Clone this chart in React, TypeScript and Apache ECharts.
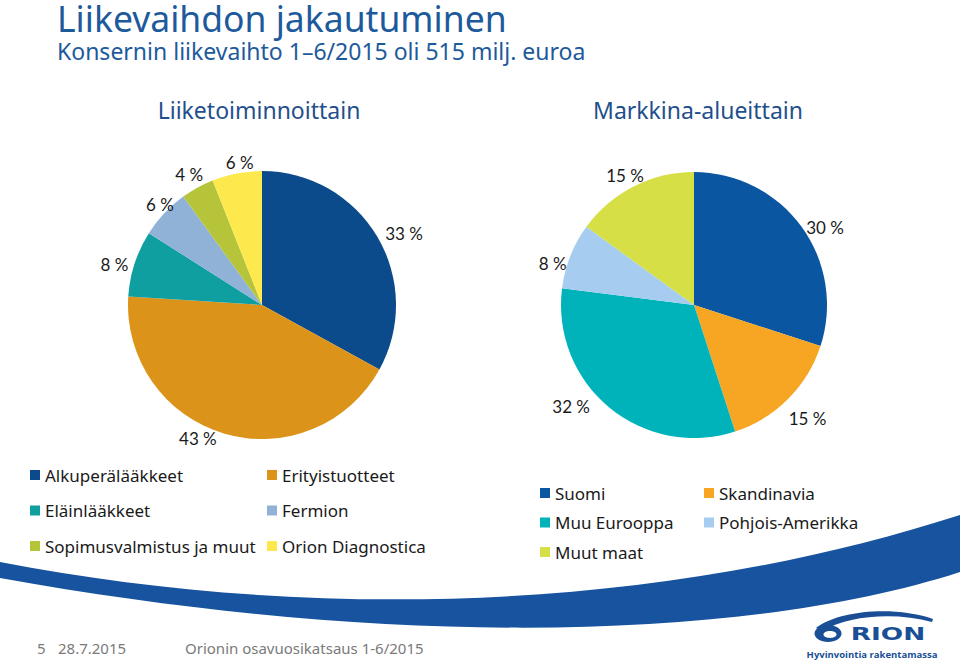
import React, { useEffect, useRef } from "react";
import * as echarts from "echarts";

const title = "Liikevaihdon jakautuminen";
const subtitle = "Konsernin liikevaihto 1–6/2015 oli 515 milj. euroa";
const leftHeader = "Liiketoiminnoittain";
const rightHeader = "Markkina-alueittain";

const segNames = [
  "Alkuperälääkkeet",
  "Erityistuotteet",
  "Eläinlääkkeet",
  "Fermion",
  "Sopimusvalmistus ja muut",
  "Orion Diagnostica",
];
const segValues = [33, 43, 8, 6, 4, 6];
const segColors = ["#0b4a8b", "#dc931a", "#0f9fa0", "#8fb2d6", "#b6c43a", "#fde84d"];

const mktNames = ["Suomi", "Skandinavia", "Muu Eurooppa", "Pohjois-Amerikka", "Muut maat"];
const mktValues = [30, 15, 32, 8, 15];
const mktColors = ["#0a56a1", "#f6a623", "#00b3ba", "#a6cdf0", "#d6e046"];

const footerPage = "5";
const footerDate = "28.7.2015";
const footerText = "Orionin osavuosikatsaus 1-6/2015";
const logoWord = "RION";
const logoTagline = "Hyvinvointia rakentamassa";

// small label nudges (style only), applied on top of ECharts' own label layout
const segLabelNudge = [[12, 5], [-22, -12], [-4, 6], [8, 3], [0, 2], [6, 6]];
const mktLabelNudge = [[8, 12], [6, 6], [-26, -16], [0, 14], [0, 6]];

const FONT = "'Noto Sans', sans-serif";
const LABEL_FONT = "Lato, sans-serif";

let registered = false;
function registerShapes() {
  if (registered) return;
  registered = true;
  echarts.graphic.registerShape(
    "swoosh",
    echarts.graphic.extendPath(
      "M0 562 C300 620 650 615 960 515 L960 572 C750 640 400 650 0 578 Z",
      {}
    )
  );
  echarts.graphic.registerShape(
    "orionarc",
    echarts.graphic.extendPath(
      "M816 628 C840 610 895 606 933 619 L932 622 C896 612 848 615 823 631 Z",
      {}
    )
  );
}

function makeLabelLayout(nudges: number[][]) {
  return (params: any) => {
    const pts = params.labelLinePoints;
    if (!pts) return {};
    const end = pts[pts.length - 1];
    const n = nudges[params.dataIndex] || [0, 0];
    return { x: end[0] + n[0], y: end[1] + n[1], align: "center", verticalAlign: "middle" };
  };
}

export default function App() {
  const ref = useRef<HTMLDivElement>(null);
  useEffect(() => {
    if (!ref.current) return;
    registerShapes();
    const chart = echarts.init(ref.current, undefined, { renderer: "svg" });
    const legendText = { fontSize: 17, fontFamily: FONT, color: "#1a1a1a", lineHeight: 20 };
    const legendBase = {
      orient: "vertical" as const,
      icon: "rect",
      itemWidth: 10,
      itemHeight: 10,
      padding: 0,
      textStyle: legendText,
    };
    const pieLabel = {
      show: true,
      position: "outside" as const,
      formatter: "{c} %",
      fontSize: 17,
      fontFamily: LABEL_FONT,
      color: "#1a1a1a",
    };
    chart.setOption({
      animation: false,
      backgroundColor: "#ffffff",
      legend: [
        { ...legendBase, left: 30, top: 465, itemGap: 15.5, data: [segNames[0], segNames[2], segNames[4]] },
        { ...legendBase, left: 267, top: 465, itemGap: 15.5, data: [segNames[1], segNames[3], segNames[5]] },
        { ...legendBase, left: 540, top: 483, itemGap: 9.5, data: [mktNames[0], mktNames[2], mktNames[4]] },
        { ...legendBase, left: 704, top: 483, itemGap: 9.5, data: [mktNames[1], mktNames[3]] },
      ],
      series: [
        {
          type: "pie",
          center: [262, 305],
          radius: 134,
          startAngle: 90,
          clockwise: true,
          avoidLabelOverlap: false,
          label: pieLabel,
          labelLine: { show: false, length: 17, length2: 0 },
          labelLayout: makeLabelLayout(segLabelNudge),
          itemStyle: { borderWidth: 0 },
          emphasis: { disabled: true },
          data: segNames.map((n, i) => ({ name: n, value: segValues[i], itemStyle: { color: segColors[i] } })),
        },
        {
          type: "pie",
          center: [694, 305],
          radius: 133,
          startAngle: 90,
          clockwise: true,
          avoidLabelOverlap: false,
          label: pieLabel,
          labelLine: { show: false, length: 19, length2: 0 },
          labelLayout: makeLabelLayout(mktLabelNudge),
          itemStyle: { borderWidth: 0 },
          emphasis: { disabled: true },
          data: mktNames.map((n, i) => ({ name: n, value: mktValues[i], itemStyle: { color: mktColors[i] } })),
        },
      ],
      graphic: [
        { type: "swoosh", x: 0, y: 0, silent: true, z: -1, style: { fill: "#17539e" } },
        {
          type: "text", x: 57, y: 18,
          style: { text: title, fontSize: 35.5, lineHeight: 36, fontFamily: FONT, fill: "#1d5a9c", verticalAlign: "middle" },
        },
        {
          type: "text", x: 57, y: 51,
          style: { text: subtitle, fontSize: 23, lineHeight: 24, fontFamily: FONT, fill: "#1d5a9c", verticalAlign: "middle" },
        },
        {
          type: "text", x: 259, y: 110,
          style: { text: leftHeader, fontSize: 23, fontFamily: FONT, fill: "#1f4f8c", align: "center", verticalAlign: "middle" },
        },
        {
          type: "text", x: 698, y: 110,
          style: { text: rightHeader, fontSize: 23, fontFamily: FONT, fill: "#1f4f8c", align: "center", verticalAlign: "middle" },
        },
        {
          type: "text", x: 37, y: 648,
          style: { text: footerPage, fontSize: 15, fontFamily: FONT, fill: "#7a7a7a", verticalAlign: "middle" },
        },
        {
          type: "text", x: 58, y: 648,
          style: { text: footerDate, fontSize: 15, fontFamily: FONT, fill: "#7a7a7a", verticalAlign: "middle" },
        },
        {
          type: "text", x: 185, y: 648,
          style: { text: footerText, fontSize: 15, fontFamily: FONT, fill: "#7a7a7a", verticalAlign: "middle" },
        },
        { type: "orionarc", x: 0, y: 0, silent: true, style: { fill: "#1a4f96" } },
        { type: "ellipse", shape: { cx: 828, cy: 633.5, rx: 13.5, ry: 8.5 }, style: { fill: "#1a4f96" } },
        { type: "ellipse", shape: { cx: 830, cy: 634.5, rx: 6.5, ry: 3.4 }, style: { fill: "#ffffff" } },
        {
          type: "text", x: 888, y: 634, scaleX: 1.55,
          style: { text: logoWord, fontSize: 17, fontWeight: "bold", fontFamily: "'DejaVu Sans', sans-serif", fill: "#1a4f96", align: "center", verticalAlign: "middle" },
        },
        {
          type: "text", x: 872, y: 654,
          style: { text: logoTagline, fontSize: 9.5, fontWeight: "bold", fontFamily: "'Open Sans', sans-serif", fill: "#1a4f96", align: "center", verticalAlign: "middle" },
        },
      ],
    });
    return () => chart.dispose();
  }, []);
  return (
    <div
      ref={ref}
      style={{ position: "absolute", left: 0, top: 0, width: 960, height: 666 }}
    />
  );
}
